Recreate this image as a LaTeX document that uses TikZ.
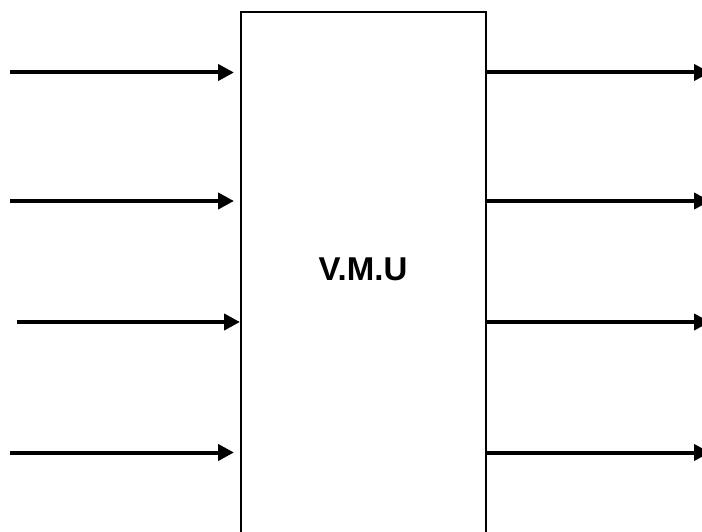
\documentclass[tikz,border=0pt]{standalone}
\usepackage{fontspec}
\setmainfont{Liberation Sans}
\usetikzlibrary{arrows.meta}
\begin{document}
\begin{tikzpicture}[x=1pt,y=-1pt,
  blk/.style={draw=black, line width=2.4pt, minimum width=245pt, minimum height=534pt, inner sep=0pt, outer sep=0pt},
  sig/.style={line width=4pt, -{Triangle[length=16pt,width=16pt]}},
  lbl/.style={font=\fontsize{33}{33}\selectfont\bfseries, inner sep=0pt}]
\useasboundingbox (0,0) rectangle (702,532);
\clip (0,0) rectangle (702,532);
\fill[white] (0,0) rectangle (702,532);
\node[blk] (vmu) at (363.5,279) {};
\node[lbl] (t) at (363,269.5) {V.M.U};
\coordinate (i1) at (10,72.5);
\coordinate (i2) at (10,201);
\coordinate (i3) at (17,322);
\coordinate (i4) at (10,452.5);
\coordinate (o1) at (710,72.5);
\coordinate (o2) at (710,201);
\coordinate (o3) at (710,322);
\coordinate (o4) at (710,452.5);
\draw[sig, shorten >=7pt] (i1) -- (i1 -| vmu.west);
\draw[sig, shorten >=7pt] (i2) -- (i2 -| vmu.west);
\draw[sig, shorten >=1pt] (i3) -- (i3 -| vmu.west);
\draw[sig, shorten >=7pt] (i4) -- (i4 -| vmu.west);
\draw[sig] (o1 -| vmu.east) -- (o1);
\draw[sig] (o2 -| vmu.east) -- (o2);
\draw[sig] (o3 -| vmu.east) -- (o3);
\draw[sig] (o4 -| vmu.east) -- (o4);
\end{tikzpicture}
\end{document}
